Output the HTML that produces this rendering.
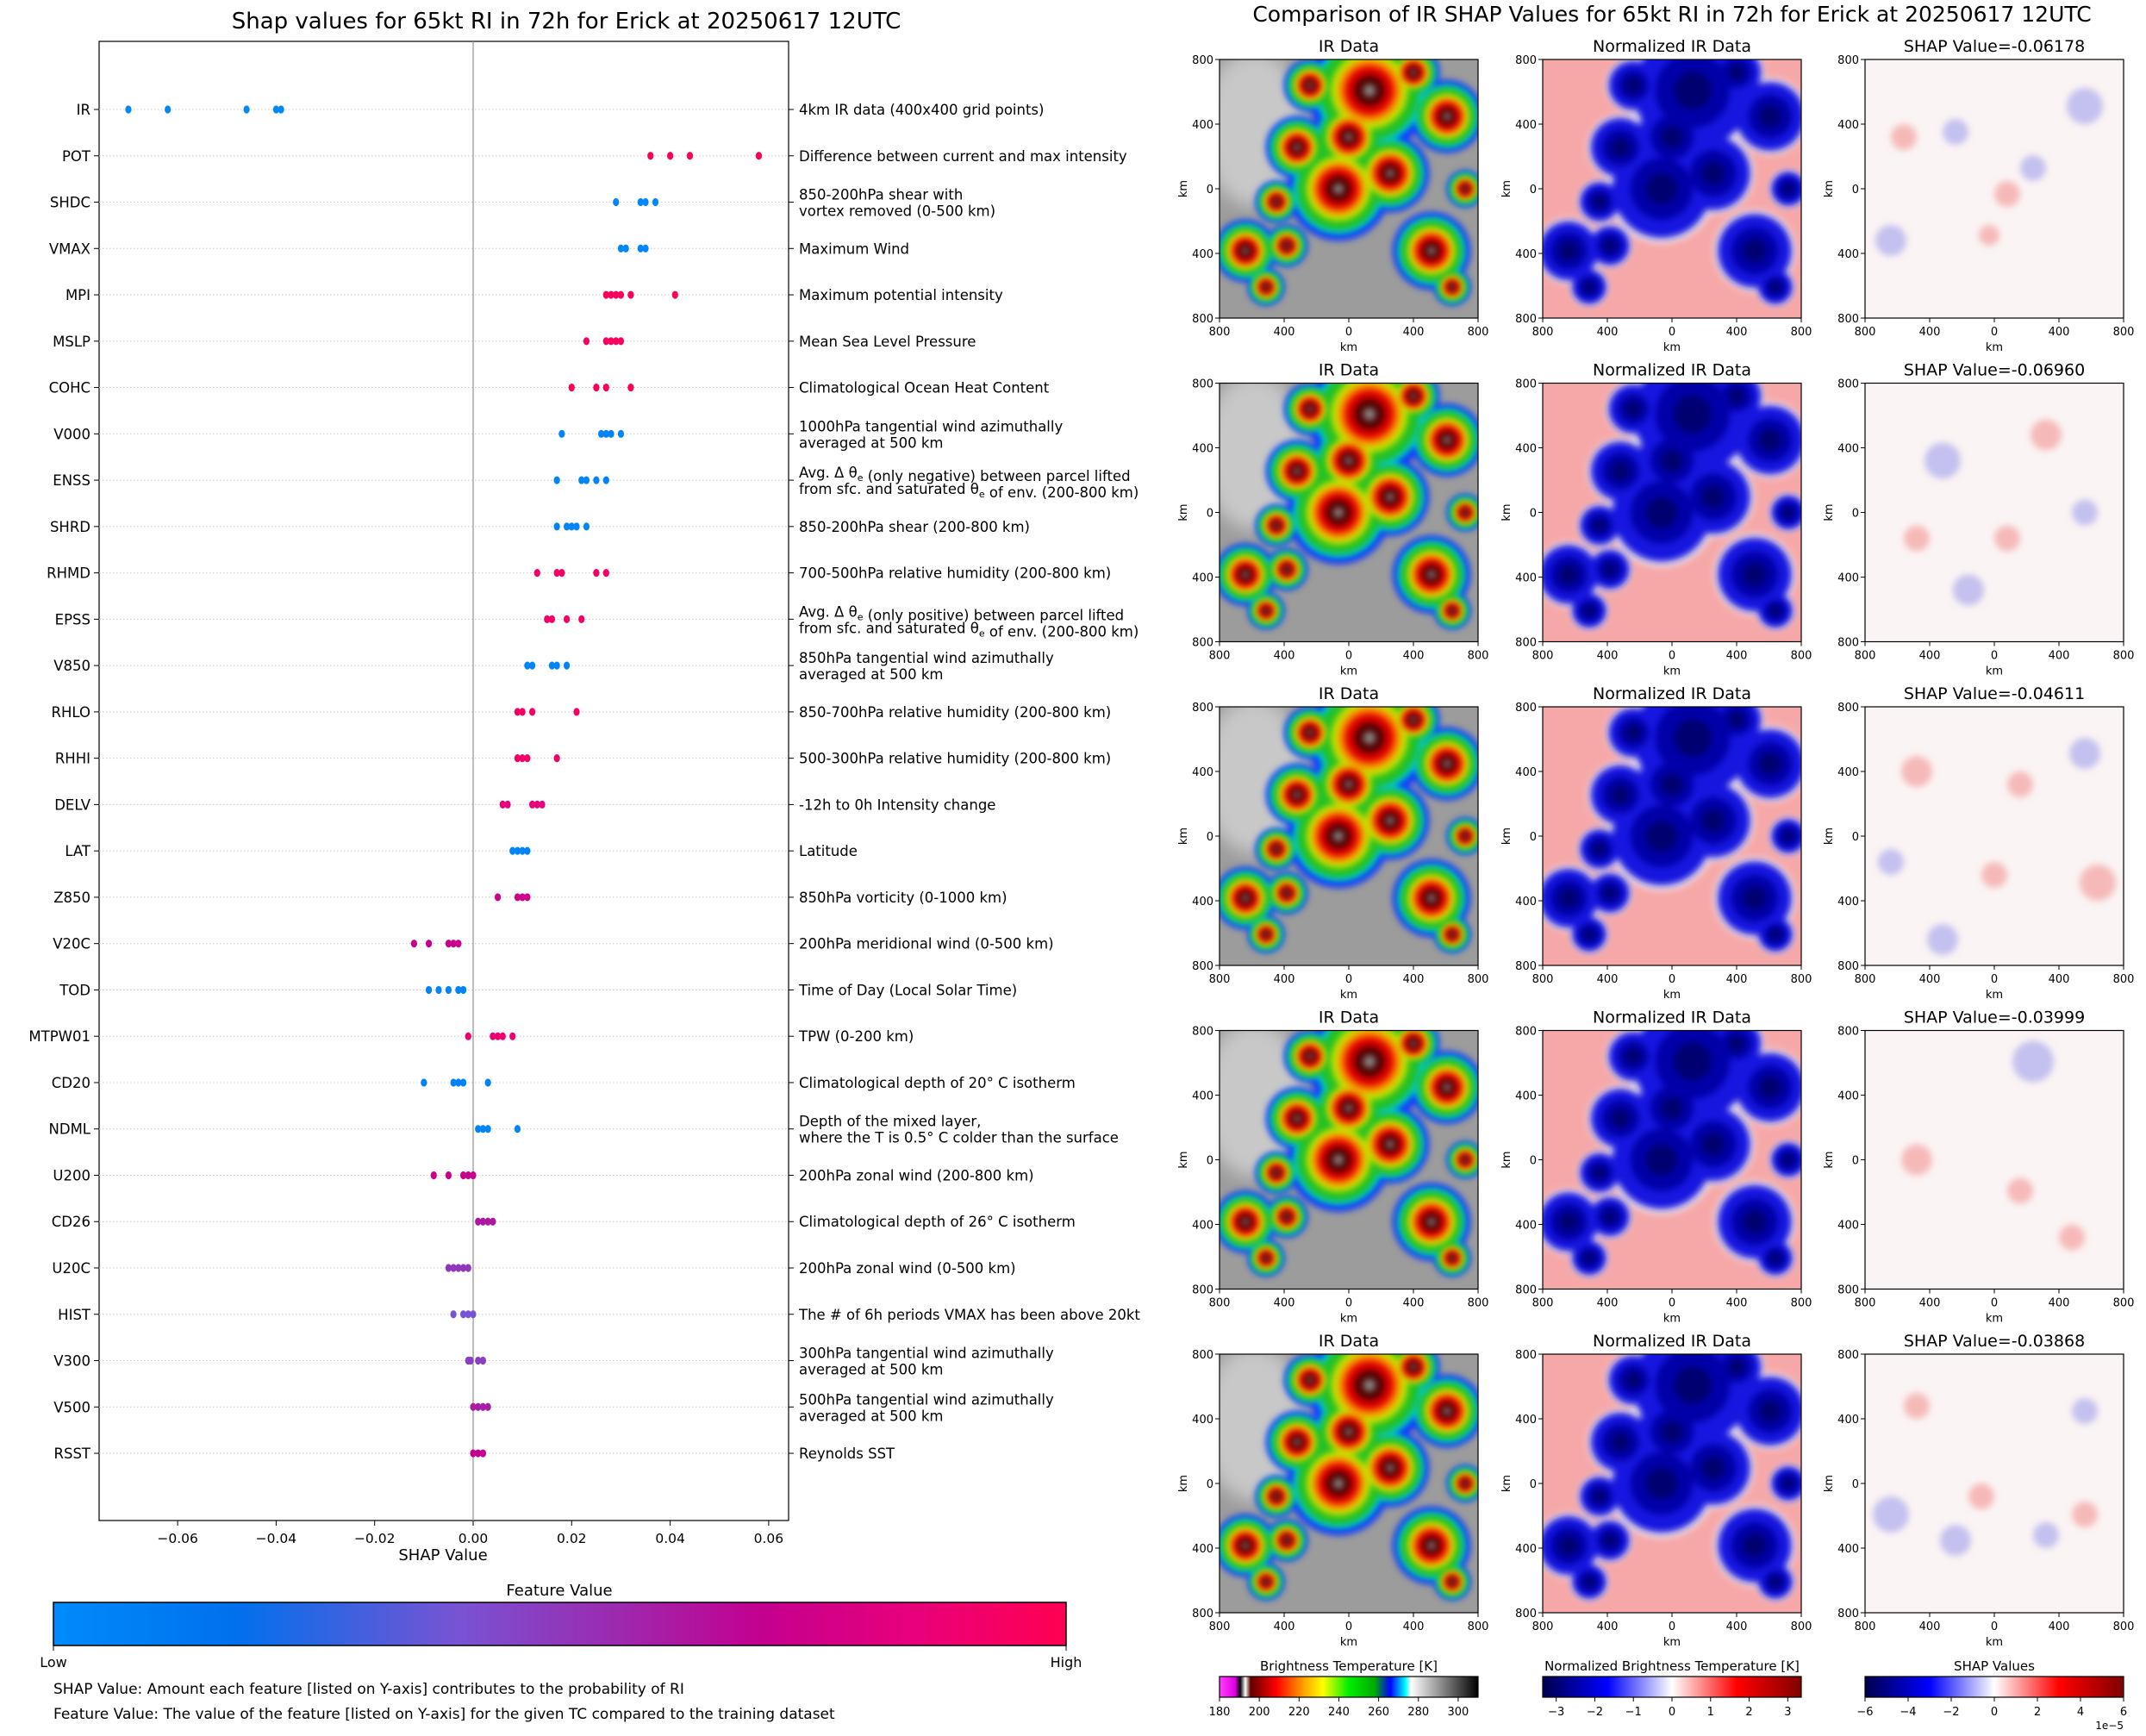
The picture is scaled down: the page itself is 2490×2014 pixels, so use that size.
<!DOCTYPE html>
<html><head><meta charset="utf-8">
<style>
html,body{margin:0;padding:0;background:#fff;}
svg text{font-family:"DejaVu Sans","Liberation Sans",sans-serif;fill:#000;}
</style></head>
<body>
<svg id="fig" xmlns="http://www.w3.org/2000/svg" width="2490" height="2009" viewBox="0 0 2490 2009">
<defs>
  <linearGradient id="fvGrad" x1="0" x2="1" y1="0" y2="0">
    <stop offset="0" stop-color="#008bfb"/><stop offset="0.18" stop-color="#0070ec"/>
    <stop offset="0.4" stop-color="#7853d3"/><stop offset="0.55" stop-color="#9b2bb0"/>
    <stop offset="0.7" stop-color="#c4008f"/><stop offset="0.85" stop-color="#e8007a"/>
    <stop offset="1" stop-color="#ff0052"/>
  </linearGradient>
  <linearGradient id="btGrad" x1="0" x2="1">
    <stop offset="0" stop-color="#ff40ff"/><stop offset="0.06" stop-color="#e000e0"/>
    <stop offset="0.08" stop-color="#000"/><stop offset="0.1" stop-color="#fff"/>
    <stop offset="0.12" stop-color="#600000"/><stop offset="0.22" stop-color="#ff0000"/>
    <stop offset="0.32" stop-color="#ff9900"/><stop offset="0.4" stop-color="#ffff00"/>
    <stop offset="0.5" stop-color="#00ee00"/><stop offset="0.6" stop-color="#00aa00"/>
    <stop offset="0.66" stop-color="#0000ff"/><stop offset="0.72" stop-color="#00ffff"/>
    <stop offset="0.74" stop-color="#ffffff"/><stop offset="1" stop-color="#000000"/>
  </linearGradient>
  <linearGradient id="bwrGrad" x1="0" x2="1">
    <stop offset="0" stop-color="#00004c"/><stop offset="0.25" stop-color="#0000ff"/>
    <stop offset="0.5" stop-color="#ffffff"/><stop offset="0.75" stop-color="#ff0000"/>
    <stop offset="1" stop-color="#800000"/>
  </linearGradient>
  <filter id="blurA" x="-20%" y="-20%" width="140%" height="140%"><feGaussianBlur stdDeviation="4"/></filter>
  <filter id="blurB" x="-30%" y="-30%" width="160%" height="160%"><feGaussianBlur stdDeviation="10"/></filter>
</defs>

<text x="657" y="33" font-size="26" text-anchor="middle">Shap values for 65kt RI in 72h for Erick at 20250617 12UTC</text>
<g id="summary"></g>

<text x="649" y="1851" font-size="18" text-anchor="middle">Feature Value</text>
<rect x="62" y="1859" width="1175" height="50" fill="url(#fvGrad)" stroke="#000" stroke-width="1.5"/>
<line x1="62" y1="1909" x2="62" y2="1915" stroke="#000"/><line x1="1237" y1="1909" x2="1237" y2="1915" stroke="#000"/>
<text x="62" y="1934" font-size="16" text-anchor="middle">Low</text>
<text x="1237" y="1934" font-size="16" text-anchor="middle">High</text>
<text x="62" y="1965" font-size="17">SHAP Value: Amount each feature [listed on Y-axis] contributes to the probability of RI</text>
<text x="62" y="1994" font-size="17">Feature Value: The value of the feature [listed on Y-axis] for the given TC compared to the training dataset</text>

<text x="1940" y="25" font-size="25" text-anchor="middle">Comparison of IR SHAP Values for 65kt RI in 72h for Erick at 20250617 12UTC</text>
<g id="panels"></g>
<g id="cbars"></g>
</svg>
<script>
const NS="http://www.w3.org/2000/svg";
function mk(tag,attrs,parent,txt){const e=document.createElementNS(NS,tag);for(const k in attrs)e.setAttribute(k,attrs[k]);if(txt!==undefined)e.textContent=txt;parent.appendChild(e);return e;}

/* ---------- summary plot data ---------- */
const features=["IR","POT","SHDC","VMAX","MPI","MSLP","COHC","V000","ENSS","SHRD","RHMD","EPSS","V850","RHLO","RHHI","DELV","LAT","Z850","V20C","TOD","MTPW01","CD20","NDML","U200","CD26","U20C","HIST","V300","V500","RSST"];
const descriptions=[
 ["4km IR data (400x400 grid points)"],["Difference between current and max intensity"],
 ["850-200hPa shear with","vortex removed (0-500 km)"],["Maximum Wind"],["Maximum potential intensity"],
 ["Mean Sea Level Pressure"],["Climatological Ocean Heat Content"],
 ["1000hPa tangential wind azimuthally","averaged at 500 km"],
 ["Avg. Δ θe (only negative) between parcel lifted","from sfc. and saturated θe of env. (200-800 km)"],
 ["850-200hPa shear (200-800 km)"],["700-500hPa relative humidity (200-800 km)"],
 ["Avg. Δ θe (only positive) between parcel lifted","from sfc. and saturated θe of env. (200-800 km)"],
 ["850hPa tangential wind azimuthally","averaged at 500 km"],
 ["850-700hPa relative humidity (200-800 km)"],["500-300hPa relative humidity (200-800 km)"],
 ["-12h to 0h Intensity change"],["Latitude"],["850hPa vorticity (0-1000 km)"],
 ["200hPa meridional wind (0-500 km)"],["Time of Day (Local Solar Time)"],["TPW (0-200 km)"],
 ["Climatological depth of 20° C isotherm"],["Depth of the mixed layer,","where the T is 0.5° C colder than the surface"],
 ["200hPa zonal wind (200-800 km)"],["Climatological depth of 26° C isotherm"],["200hPa zonal wind (0-500 km)"],
 ["The # of 6h periods VMAX has been above 20kt"],["300hPa tangential wind azimuthally","averaged at 500 km"],
 ["500hPa tangential wind azimuthally","averaged at 500 km"],["Reynolds SST"]];
const shapValues=[
 [-0.070,-0.062,-0.046,-0.040,-0.039],[0.036,0.040,0.044,0.058],[0.029,0.034,0.035,0.037],
 [0.030,0.031,0.034,0.035],[0.027,0.028,0.029,0.030,0.032,0.041],[0.023,0.027,0.028,0.029,0.030],
 [0.020,0.025,0.027,0.032],[0.018,0.026,0.027,0.028,0.030],[0.017,0.022,0.023,0.025,0.027],
 [0.017,0.019,0.020,0.021,0.023],[0.013,0.017,0.018,0.025,0.027],[0.015,0.016,0.019,0.022],
 [0.011,0.012,0.016,0.017,0.019],[0.009,0.010,0.012,0.021],[0.009,0.010,0.011,0.017],
 [0.006,0.007,0.012,0.013,0.014],[0.008,0.009,0.010,0.011],[0.005,0.009,0.010,0.011],
 [-0.012,-0.009,-0.005,-0.004,-0.003],[-0.009,-0.007,-0.005,-0.003,-0.002],
 [-0.001,0.004,0.005,0.006,0.008],[-0.010,-0.004,-0.003,-0.002,0.003],[0.001,0.002,0.003,0.009],
 [-0.008,-0.005,-0.002,-0.001,0.000],[0.001,0.002,0.003,0.004],[-0.005,-0.004,-0.003,-0.002,-0.001],
 [-0.004,-0.002,-0.001,0.000],[-0.001,-0.0005,0.001,0.002],[0.000,0.001,0.002,0.003],[0.000,0.001,0.002]];
const featureValues=[0.02,0.98,0.03,0.03,0.96,0.95,0.97,0.04,0.04,0.04,0.93,0.92,0.04,0.93,0.92,0.85,0.04,0.75,0.72,0.05,0.88,0.06,0.05,0.72,0.62,0.5,0.4,0.48,0.6,0.7];
const xTicks=[-0.06,-0.04,-0.02,0.00,0.02,0.04,0.06];

const AX={l:115,r:915,t:48,b:1764};
const xs=v=>549+v*5715;
const ys=i=>127+i*53.76;
const cmapStops=[[0,[0,139,251]],[0.18,[0,112,236]],[0.4,[120,83,211]],[0.55,[155,43,176]],[0.7,[196,0,143]],[0.85,[232,0,122]],[1,[255,0,82]]];
function fvColor(t){for(let k=1;k<cmapStops.length;k++){if(t<=cmapStops[k][0]){const a=cmapStops[k-1],b=cmapStops[k];const f=(t-a[0])/(b[0]-a[0]);const c=a[1].map((v,j)=>Math.round(v+(b[1][j]-v)*f));return `rgb(${c})`;}}return "rgb(255,0,82)";}

const S=document.getElementById('summary');
mk('rect',{x:AX.l,y:AX.t,width:AX.r-AX.l,height:AX.b-AX.t,fill:'none',stroke:'#000','stroke-width':1.2},S);
mk('line',{x1:xs(0),y1:AX.t,x2:xs(0),y2:AX.b,stroke:'#999','stroke-width':1.3},S);
features.forEach((f,i)=>{
  const y=ys(i);
  const g=mk('line',{x1:AX.l,y1:y,x2:AX.r,y2:y,stroke:'#ccc','stroke-width':1,'stroke-dasharray':'1.5,2.5'},S);
  
  
  mk('line',{x1:AX.l-6,y1:y,x2:AX.l,y2:y,stroke:'#000'},S);
  mk('line',{x1:AX.r,y1:y,x2:AX.r+6,y2:y,stroke:'#000'},S);
  const lab=mk('text',{x:AX.l-10,y:y+6,'font-size':16.5,'text-anchor':'end'},S,f);
  
  
  const d=descriptions[i];
  const dt=mk('text',{x:AX.r+12,'font-size':16.5},S);
  
  
  d.forEach((line,j)=>{
    const yy=d.length===1?y+6:y-3+j*19;
    const ts=mk('tspan',{x:AX.r+12,y:yy},dt);
    const parts=line.split('θe');
    parts.forEach((p,k)=>{ts.appendChild(document.createTextNode(p));if(k<parts.length-1){ts.appendChild(document.createTextNode('θ'));mk('tspan',{'font-size':11,dy:4},ts,'e');mk('tspan',{dy:-4},ts,'');}});
  });
  const col=fvColor(featureValues[i]);
  shapValues[i].forEach(v=>{
    const dot=mk('ellipse',{cx:xs(v),cy:y,rx:3.6,ry:4.6,fill:col},S);
    
    
  });
});
xTicks.forEach(t=>{
  const x=xs(t);
  mk('line',{x1:x,y1:AX.b,x2:x,y2:AX.b+6,stroke:'#000'},S);
  const tl=mk('text',{x:x,y:AX.b+26,'font-size':15.5,'text-anchor':'middle'},S,(t<0?'\u2212':'')+Math.abs(t).toFixed(2));
  
  
});
const xt=mk('text',{x:514,y:1810,'font-size':18,'text-anchor':'middle'},S,'SHAP Value');



/* ---------- image panels ---------- */
const shapTitles=["-0.06178","-0.06960","-0.04611","-0.03999","-0.03868"];
const cloudBlobs=[[0.58,0.12,0.24],[0.88,0.22,0.14],[0.46,0.5,0.2],[0.66,0.44,0.15],[0.3,0.34,0.12],[0.1,0.74,0.12],[0.82,0.74,0.15],[0.26,0.72,0.08],[0.95,0.5,0.07],[0.35,0.1,0.1],[0.5,0.3,0.14],[0.22,0.55,0.08],[0.9,0.88,0.07],[0.18,0.88,0.07],[0.75,0.05,0.1]];
const shapBlobs=[
 [[0.15,0.3,0.05,1],[0.35,0.28,0.05,-1],[0.85,0.18,0.07,-1],[0.55,0.52,0.05,1],[0.48,0.68,0.04,1],[0.1,0.7,0.06,-1],[0.65,0.42,0.05,-1]],
 [[0.3,0.3,0.07,-1],[0.7,0.2,0.06,1],[0.2,0.6,0.05,1],[0.55,0.6,0.05,1],[0.85,0.5,0.05,-1],[0.4,0.8,0.06,-1]],
 [[0.85,0.18,0.06,-1],[0.2,0.25,0.06,1],[0.6,0.3,0.05,1],[0.9,0.68,0.07,1],[0.5,0.65,0.05,1],[0.1,0.6,0.05,-1],[0.3,0.9,0.06,-1]],
 [[0.65,0.12,0.08,-1],[0.6,0.62,0.05,1],[0.2,0.5,0.06,1],[0.8,0.8,0.05,1]],
 [[0.2,0.2,0.05,1],[0.85,0.22,0.05,-1],[0.1,0.62,0.07,-1],[0.45,0.55,0.05,1],[0.85,0.62,0.05,1],[0.35,0.72,0.06,-1],[0.7,0.7,0.05,-1]]];
const colX=[1415,1790,2164];
const colTitles=["IR Data","Normalized IR Data","SHAP Value="];
const P=document.getElementById('panels');
const W=300;
for(let r=0;r<5;r++){
  const y0=69+r*375.5;
  for(let c=0;c<3;c++){
    const x0=colX[c];
    const g=mk('g',{},P);
    
    
    const cid='clip'+r+'_'+c;
    const cp=mk('clipPath',{id:cid},g);mk('rect',{x:x0,y:y0,width:W,height:W},cp);
    const body=mk('g',{'clip-path':`url(#${cid})`},g);
    if(c===0){
      mk('rect',{x:x0,y:y0,width:W,height:W,fill:'#9c9c9c'},body);
      mk('ellipse',{cx:x0+40,cy:y0+80,rx:60,ry:90,fill:'#c8c8c8',filter:'url(#blurB)'},body);
      const layers=[[1,'#1030ff'],[0.88,'#00c8d8'],[0.8,'#20c020'],[0.62,'#c8e000'],[0.5,'#ff8800'],[0.4,'#e00000'],[0.25,'#500000'],[0.1,'#888888']];
      layers.forEach(([k,col])=>{
        const lg=mk('g',{filter:'url(#blurA)'},body);
        cloudBlobs.forEach(b=>mk('circle',{cx:x0+b[0]*W,cy:y0+b[1]*W,r:b[2]*W*k,fill:col},lg));
      });
    }else if(c===1){
      mk('rect',{x:x0,y:y0,width:W,height:W,fill:'#f6a8a8'},body);
      [[1.05,'#ece4f0'],[0.95,'#1818e0'],[0.6,'#0000a8'],[0.3,'#000070']].forEach(([k,col])=>{
        const lg=mk('g',{filter:'url(#blurA)'},body);
        cloudBlobs.forEach(b=>mk('circle',{cx:x0+b[0]*W,cy:y0+b[1]*W,r:b[2]*W*k,fill:col},lg));
      });
    }else{
      mk('rect',{x:x0,y:y0,width:W,height:W,fill:'#fbf4f4'},body);
      const lg=mk('g',{filter:'url(#blurA)'},body);
      shapBlobs[r].forEach(b=>mk('circle',{cx:x0+b[0]*W,cy:y0+b[1]*W,r:b[2]*W,fill:b[3]>0?'#f07070':'#8080e8','fill-opacity':0.45},lg));
    }
    mk('rect',{x:x0,y:y0,width:W,height:W,fill:'none',stroke:'#000','stroke-width':1.2},g);
    const t=mk('text',{x:x0+W/2,y:y0-9,'font-size':19,'text-anchor':'middle'},g,c===2?colTitles[2]+shapTitles[r]:colTitles[c]);
    
    
    const tl=["800","400","0","400","800"];
    tl.forEach((s,k)=>{
      const yy=y0+k*W/4;
      mk('line',{x1:x0-5,y1:yy,x2:x0,y2:yy,stroke:'#000'},g);
      mk('text',{x:x0-7,y:yy+5,'font-size':13,'text-anchor':'end'},g,s);
      const xx=x0+k*W/4;
      mk('line',{x1:xx,y1:y0+W,x2:xx,y2:y0+W+5,stroke:'#000'},g);
      mk('text',{x:xx,y:y0+W+20,'font-size':13,'text-anchor':'middle'},g,s);
    });
    mk('text',{x:x0+W/2,y:y0+W+38,'font-size':13,'text-anchor':'middle'},g,'km');
    mk('text',{x:0,y:0,'font-size':13,'text-anchor':'middle',transform:`translate(${x0-38},${y0+W/2}) rotate(-90)`},g,'km');
  }
}

/* ---------- bottom colorbars ---------- */
const btTicks=[180,200,220,240,260,280,300];
const normTicks=[-3,-2,-1,0,1,2,3];
const shapTicks=[-6,-4,-2,0,2,4,6];
const CB=document.getElementById('cbars');
const cbDefs=[
 {x:colX[0],grad:'btGrad',title:'Brightness Temperature [K]',ticks:btTicks,min:180,max:310,name:'brightness-temperature-colorbar'},
 {x:colX[1],grad:'bwrGrad',title:'Normalized Brightness Temperature [K]',ticks:normTicks,min:-3.35,max:3.35,name:'normalized-colorbar'},
 {x:colX[2],grad:'bwrGrad',title:'SHAP Values',ticks:shapTicks,min:-6,max:6,name:'shap-colorbar'}];
cbDefs.forEach(d=>{
  const g=mk('g',{},CB);
  
  
  mk('text',{x:d.x+150,y:1938,'font-size':15,'text-anchor':'middle'},g,d.title);
  mk('rect',{x:d.x,y:1945,width:300,height:24,fill:`url(#${d.grad})`,stroke:'#000','stroke-width':1.2},g);
  d.ticks.forEach(v=>{
    const x=d.x+(v-d.min)/(d.max-d.min)*300;
    mk('line',{x1:x,y1:1969,x2:x,y2:1974,stroke:'#000'},g);
    mk('text',{x:x,y:1990,'font-size':13,'text-anchor':'middle'},g,(v<0?'\u2212':'')+Math.abs(v));
  });
});
mk('text',{x:2464,y:2006,'font-size':12,'text-anchor':'end'},CB,'1e\u22125');
</script>
</body></html>
